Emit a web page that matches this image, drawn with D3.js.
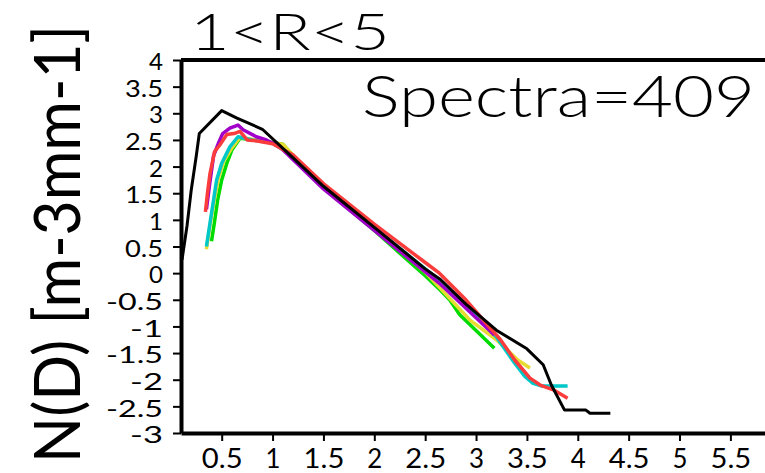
<!DOCTYPE html>
<html>
<head>
<meta charset="utf-8">
<title>N(D) spectra</title>
<script src="https://d3js.org/d3.v7.min.js"></script>
<style>
body { margin: 0; background: #fff; }
svg text { font-family: "Lato", "DejaVu Sans", sans-serif; fill: #000; }
.axis .domain { stroke: #000; stroke-width: 4; }
.axis .tick line { stroke: #000; stroke-width: 2; }
</style>
</head>
<body>
<script>
var w = 765, h = 473;

// tick values
var xTicks = [0.5, 1, 1.5, 2, 2.5, 3, 3.5, 4, 4.5, 5, 5.5];
var yTicks = [-3, -2.5, -2, -1.5, -1, -0.5, 0, 0.5, 1, 1.5, 2, 2.5, 3, 3.5, 4];

var title = "1<R<5";
var note = "Spectra=409";
var yTitle = "N(D) [m-3mm-1]";

// series (D, log N)
var blackX = [0.11, 0.16, 0.2, 0.25, 0.28, 0.5, 0.65, 0.9, 1.17, 1.5, 2.0, 2.5, 2.65, 2.9, 3.2, 3.5, 3.66, 3.74, 3.87, 4.08, 4.12, 4.32];
var blackY = [0.25, 0.9, 1.55, 2.2, 2.62, 3.05, 2.91, 2.7, 2.22, 1.63, 0.86, 0.08, -0.12, -0.58, -1.07, -1.42, -1.72, -2.1, -2.57, -2.57, -2.63, -2.63];

var purpleX = [0.35, 0.38, 0.42, 0.47, 0.51, 0.58, 0.66, 0.71, 0.84, 0.94, 1.07, 1.5, 2.0, 2.64, 3.18];
var purpleY = [1.2, 1.65, 2.2, 2.45, 2.62, 2.72, 2.78, 2.69, 2.56, 2.5, 2.37, 1.58, 0.8, -0.19, -1.16];

var redX = [0.34, 0.36, 0.385, 0.43, 0.48, 0.55, 0.62, 0.68, 0.75, 0.85, 1.0, 1.2, 1.5, 2.0, 2.5, 2.64, 2.9, 3.24, 3.38, 3.53, 3.63, 3.76, 3.9];
var redY = [1.15, 1.5, 1.87, 2.28, 2.4, 2.6, 2.62, 2.66, 2.5, 2.48, 2.43, 2.22, 1.68, 0.92, 0.2, 0.0, -0.5, -1.25, -1.63, -1.97, -2.1, -2.19, -2.35];

var cyanX = [0.35, 0.385, 0.42, 0.45, 0.5, 0.58, 0.66, 0.8, 1.0, 1.2, 1.5, 2.0, 2.5, 2.65, 2.9, 3.2, 3.38, 3.48, 3.56, 3.65, 3.9];
var cyanY = [0.5, 0.94, 1.37, 1.75, 2.06, 2.37, 2.56, 2.5, 2.44, 2.2, 1.62, 0.85, 0.08, -0.15, -0.6, -1.2, -1.69, -1.94, -2.07, -2.12, -2.12];

var greenX = [0.4, 0.43, 0.46, 0.5, 0.55, 0.6, 0.68, 0.9, 1.1, 1.3, 1.5, 2.0, 2.5, 2.65, 2.74, 2.84, 3.18];
var greenY = [0.6, 0.97, 1.37, 1.75, 2.06, 2.31, 2.53, 2.48, 2.42, 2.0, 1.6, 0.8, -0.05, -0.32, -0.5, -0.78, -1.41];

var yellowX = [0.35, 0.39, 0.43, 0.47, 0.52, 0.6, 0.68, 0.9, 1.1, 1.5, 2.0, 2.5, 2.94, 3.2, 3.41, 3.53];
var yellowY = [0.45, 0.95, 1.4, 1.8, 2.1, 2.35, 2.55, 2.48, 2.42, 1.6, 0.83, 0.02, -0.88, -1.25, -1.63, -1.78];

var series = [
  { x: greenX, y: greenY, color: "rgb(0,220,0)", width: 3.5 },
  { x: yellowX, y: yellowY, color: "rgb(230,220,50)", width: 3.5 },
  { x: cyanX, y: cyanY, color: "rgb(0,200,200)", width: 3.5 },
  { x: purpleX, y: purpleY, color: "rgb(160,0,200)", width: 3.5 },
  { x: redX, y: redY, color: "rgb(250,60,60)", width: 3.5 },
  { x: blackX, y: blackY, color: "#000", width: 3 }
];

var xScale = d3.scaleLinear().domain([0.1, 5.85]).range([181, 766]);
var yScale = d3.scaleLinear().domain([-3, 4]).range([433, 60]);

var svg = d3.select("body").append("svg")
  .attr("width", w)
  .attr("height", h);

// width of a label in the narrow axis font
function labelLen(s, digit) {
  var n = 0;
  for (var i = 0; i < s.length; i++) {
    var c = s[i];
    if (c == ".") n += digit * 0.72;
    else if (c == "-" || c == "\u2212") n += digit * 1.35;
    else n += digit;
  }
  return n;
}

var line = d3.line()
  .x(function(d) { return xScale(d[0]); })
  .y(function(d) { return yScale(d[1]); });

series.forEach(function(s) {
  var pts = s.x.map(function(v, i) { return [v, s.y[i]]; });
  svg.append("path")
    .datum(pts)
    .attr("fill", "none")
    .attr("stroke", s.color)
    .attr("stroke-width", s.width)
    .attr("stroke-linejoin", "round")
    .attr("d", line);
});

// top frame line
svg.append("line")
  .attr("x1", xScale(0.1)).attr("x2", w)
  .attr("y1", yScale(4)).attr("y2", yScale(4))
  .attr("stroke", "#000").attr("stroke-width", 4);

var xAxis = d3.axisBottom(xScale)
  .tickValues(xTicks)
  .tickSize(8)
  .tickSizeOuter(0)
  .tickFormat(function(d) { return String(d); });

var gx = svg.append("g")
  .attr("class", "x axis")
  .attr("transform", "translate(0," + yScale(-3) + ")")
  .call(xAxis);

gx.selectAll(".tick text")
  .attr("y", 35)
  .attr("dy", 0)
  .style("font-size", "27px")
  .attr("textLength", function(d) { return labelLen(String(d), 15); })
  .attr("lengthAdjust", "spacingAndGlyphs");

var yAxis = d3.axisLeft(yScale)
  .tickValues(yTicks)
  .tickSize(8)
  .tickSizeOuter(0)
  .tickFormat(function(d) { return d < 0 ? "-" + String(-d) : String(d); });

var gy = svg.append("g")
  .attr("class", "y axis")
  .attr("transform", "translate(" + xScale(0.1) + ",0)")
  .call(yAxis);

gy.selectAll(".tick text")
  .attr("x", -18)
  .attr("dy", "0.42em")
  .style("font-size", "23px")
  .attr("textLength", function(d) { return labelLen(d < 0 ? "-" + String(-d) : String(d), 14); })
  .attr("lengthAdjust", "spacingAndGlyphs");

svg.append("text")
  .attr("x", 190)
  .attr("y", 50)
  .style("font-size", "51px")
  .style("font-weight", 300)
  .attr("textLength", 200)
  .attr("lengthAdjust", "spacingAndGlyphs")
  .text(title);

svg.append("text")
  .attr("x", 362)
  .attr("y", 117)
  .style("font-size", "57px")
  .style("font-weight", 300)
  .attr("textLength", 393)
  .attr("lengthAdjust", "spacingAndGlyphs")
  .text(note);

svg.append("text")
  .attr("transform", "translate(80,463) rotate(-90)")
  .style("font-size", "63px")
  .style("font-weight", 400)
  .attr("textLength", 438)
  .attr("lengthAdjust", "spacingAndGlyphs")
  .text(yTitle);
</script>
</body>
</html>
